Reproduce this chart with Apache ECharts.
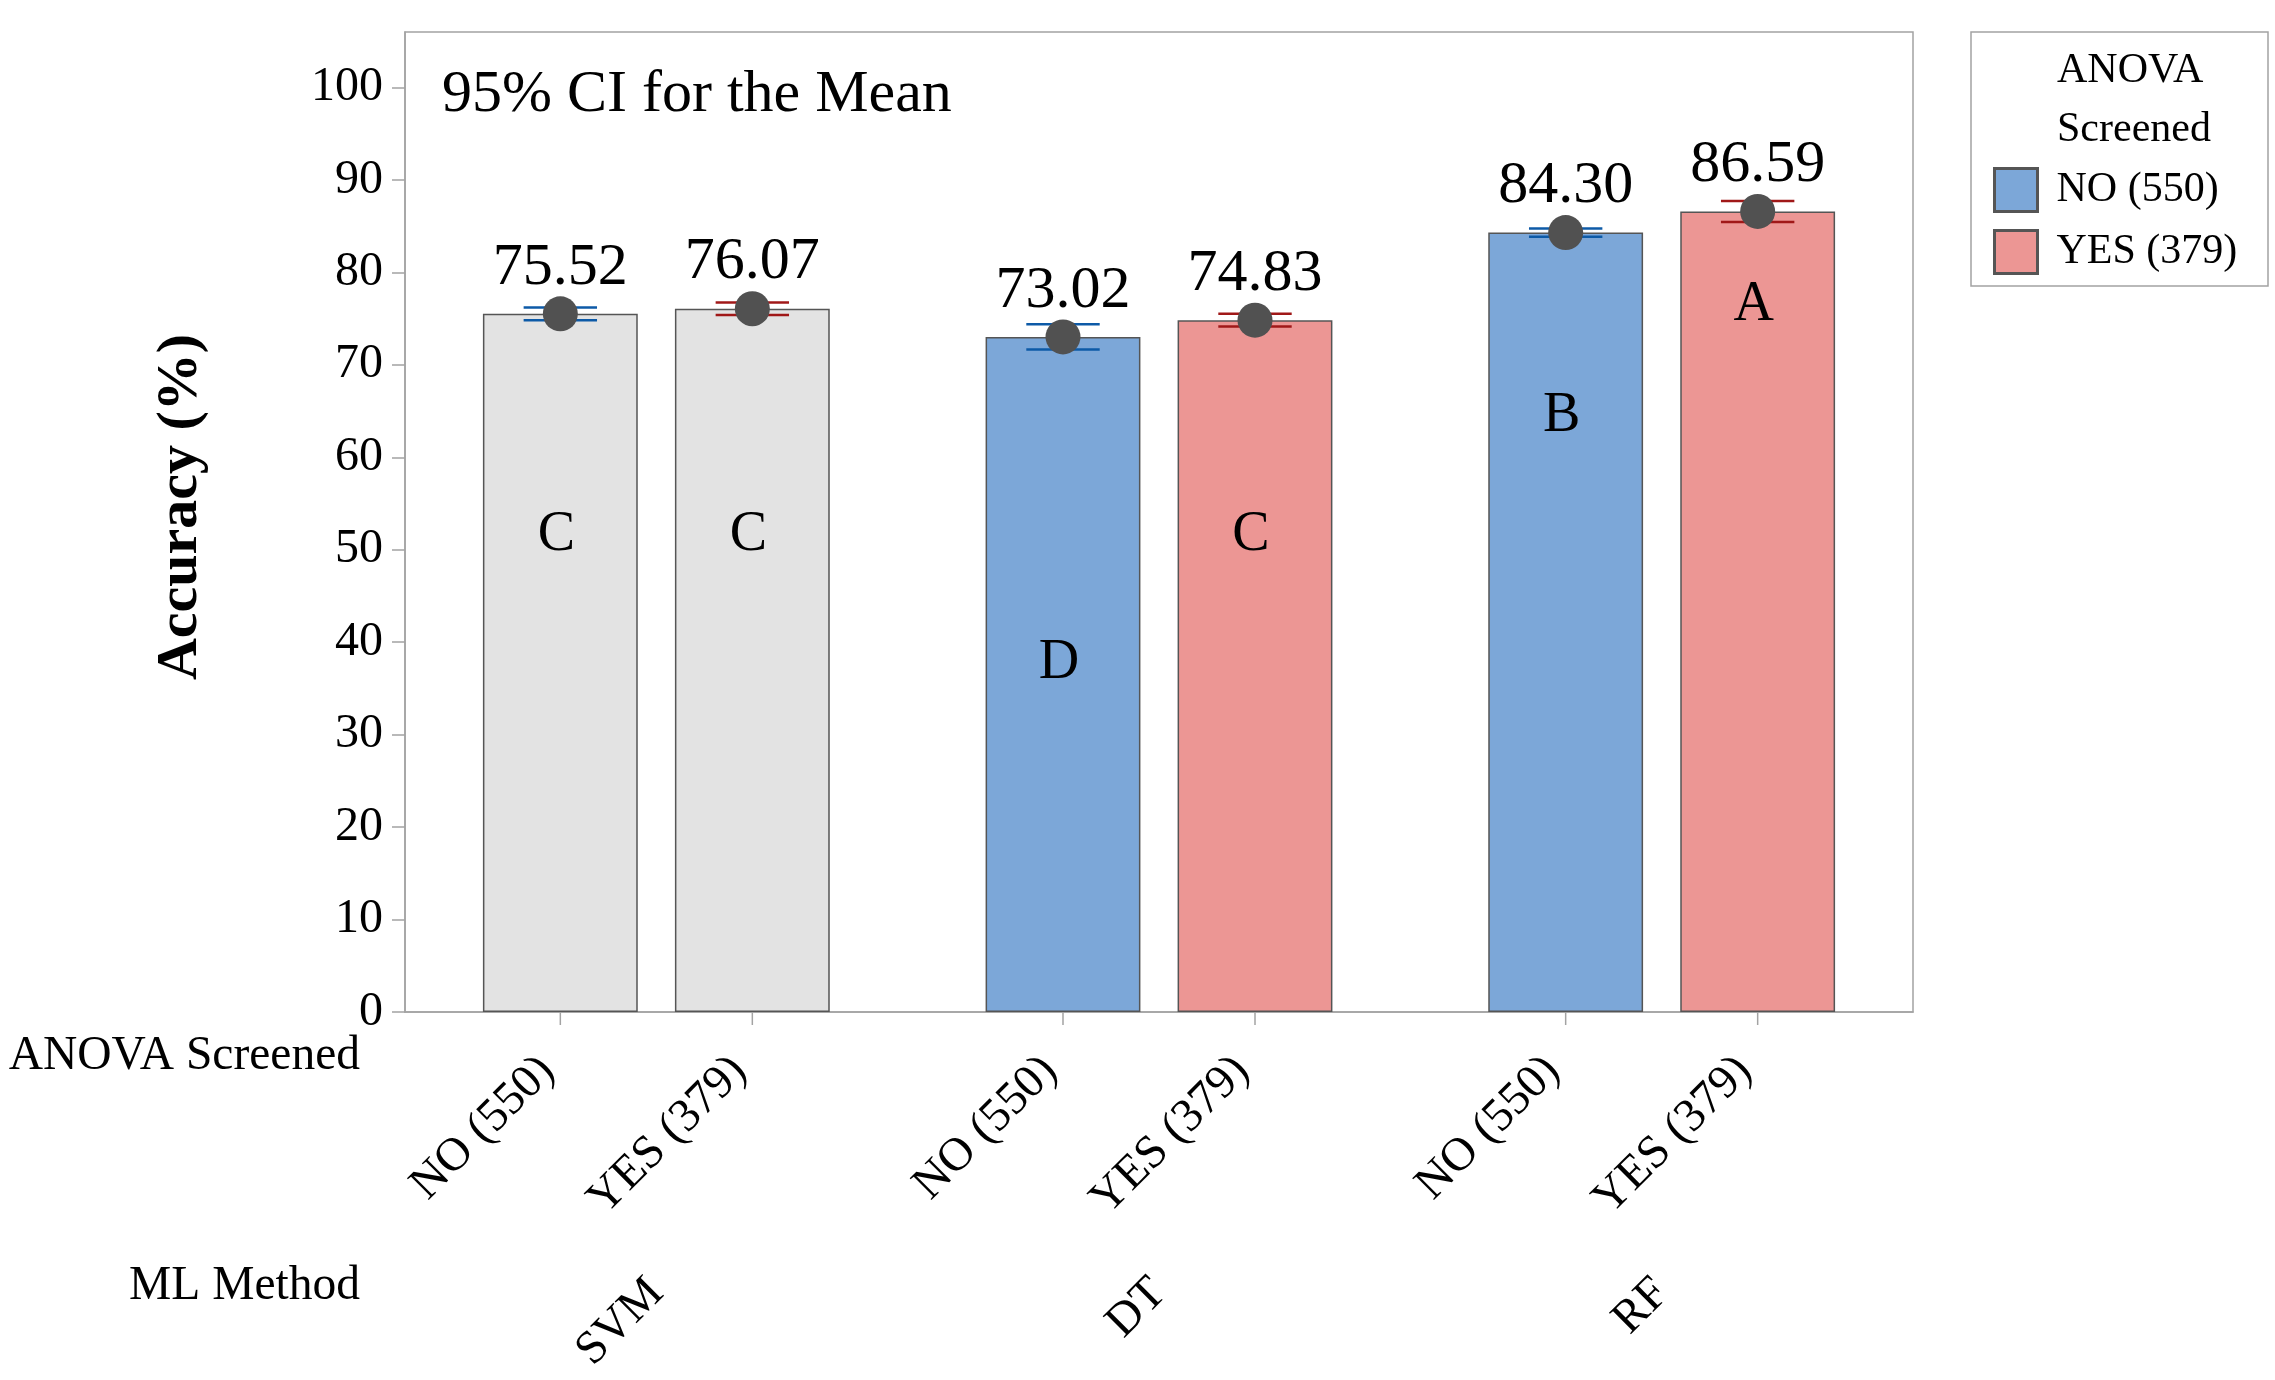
<!DOCTYPE html>
<html>
<head>
<meta charset="utf-8">
<script src="https://cdn.jsdelivr.net/npm/echarts@6.0.0/dist/echarts.min.js"></script>
<style>
  html, body { margin: 0; padding: 0; background: #ffffff; }
  #chart { width: 2275px; height: 1380px; }
</style>
</head>
<body>
<div id="chart"></div>
<script>
// ---------- data ----------
const methods = ['SVM', 'DT', 'RF'];
const groupNames = ['NO (550)', 'YES (379)'];
const meanNo = [75.52, 73.02, 84.30];
const meanYes = [76.07, 74.83, 86.59];
const ciNoLow = [74.83, 71.65, 83.85];
const ciNoHigh = [76.21, 74.39, 84.75];
const ciYesLow = [75.39, 74.14, 85.46];
const ciYesHigh = [76.75, 75.52, 87.72];
const letterNo = ['C', 'D', 'B'];
const letterYes = ['C', 'C', 'A'];
const letterPosNo = [51.6, 37.7, 64.4];
const letterPosYes = [51.6, 51.6, 76.4];
const yTicks = [0, 10, 20, 30, 40, 50, 60, 70, 80, 90, 100];

// ---------- style ----------
const FONT = '"Liberation Serif", "Times New Roman", serif';
const BLUE = '#7ca7d8';
const RED = '#ec9694';
const GREY = '#e3e3e3';
const EDGE = '#555555';
const AXIS = '#a3a3a3';
const CI_BLUE = '#0d5aa7';
const CI_RED = '#a01818';
const CAT_GAP = 0.31;
const BAR_GAP = 0.24;

function barData(values, color) {
  return values.map((v, i) => ({
    value: v,
    itemStyle: { color: methods[i] === 'SVM' ? GREY : color }
  }));
}

function overlay(side, means, lows, highs, letters, letterPos, ciColor) {
  return {
    type: 'custom',
    name: 'ci-' + side,
    z: 10,
    clip: false,
    encode: { x: 0, y: [1, 2, 3, 4] },
    data: means.map((m, i) => [i, m, lows[i], highs[i], letterPos[i]]),
    renderItem: function (params, api) {
      const idx = api.value(0);
      const band = api.size([1, 0])[0];
      const barW = band * (1 - CAT_GAP) / (2 + BAR_GAP);
      const off = (side === 0 ? -1 : 1) * barW * (1 + BAR_GAP) / 2;
      const pm = api.coord([idx, api.value(1)]);
      const pl = api.coord([idx, api.value(2)]);
      const ph = api.coord([idx, api.value(3)]);
      const pt = api.coord([idx, api.value(4)]);
      const p0 = api.coord([idx, 0]);
      const x = pm[0] + off;
      const hw = barW * 0.237;
      return {
        type: 'group',
        children: [
          { type: 'line', shape: { x1: x - hw, y1: ph[1], x2: x + hw, y2: ph[1] },
            style: { stroke: ciColor, lineWidth: 2.5 } },
          { type: 'line', shape: { x1: x - hw, y1: pl[1], x2: x + hw, y2: pl[1] },
            style: { stroke: ciColor, lineWidth: 2.5 } },
          { type: 'circle', shape: { cx: x, cy: pm[1], r: 17.5 },
            style: { fill: '#515151' } },
          { type: 'text', x: x - 4, y: pt[1],
            style: { text: letters[params.dataIndex], font: '56px ' + FONT,
                     fill: '#000', align: 'center', verticalAlign: 'middle' } },
          { type: 'line', shape: { x1: x, y1: p0[1], x2: x, y2: p0[1] + 13 },
            style: { stroke: AXIS, lineWidth: 1.5 } },
          { type: 'text', x: x - 13, y: p0[1] + 52, rotation: Math.PI / 4,
            style: { text: groupNames[side], font: '47px ' + FONT,
                     fill: '#000', align: 'right', verticalAlign: 'middle' } }
        ]
      };
    }
  };
}

const chart = echarts.init(document.getElementById('chart'), null, { renderer: 'canvas' });

const valueLabel = {
  show: true,
  position: 'top',
  distance: 16,
  fontFamily: FONT,
  fontSize: 60,
  color: '#000',
  formatter: p => p.value.toFixed(2)
};

chart.setOption({
  animation: false,
  backgroundColor: '#ffffff',
  textStyle: { fontFamily: FONT },
  grid: {
    left: 405, right: 362, top: 32, bottom: 368,
    show: true, borderColor: AXIS, borderWidth: 1.5, backgroundColor: 'transparent'
  },
  legend: {
    data: groupNames,
    orient: 'vertical',
    left: 1993,
    top: 167,
    padding: 0,
    itemWidth: 43,
    itemHeight: 43,
    itemGap: 16,
    icon: 'rect',
    selectedMode: false,
    itemStyle: { borderColor: EDGE, borderWidth: 3 },
    textStyle: { fontFamily: FONT, fontSize: 42, color: '#000', padding: [0, 0, 0, 14] }
  },
  xAxis: {
    type: 'category',
    data: methods,
    axisLine: { show: true, lineStyle: { color: AXIS, width: 1.5 } },
    axisTick: { show: false },
    axisLabel: {
      rotate: 45, margin: 274, fontFamily: FONT, fontSize: 47, color: '#000'
    },
    splitLine: { show: false }
  },
  yAxis: {
    type: 'value',
    min: 0,
    max: 106,
    name: 'Accuracy (%)',
    nameLocation: 'middle',
    nameGap: 195,
    nameTextStyle: { fontFamily: FONT, fontSize: 58, fontWeight: 'bold', color: '#000', padding: [0, 0, 0, 30] },
    axisLine: { show: true, lineStyle: { color: AXIS, width: 1.5 } },
    axisTick: { show: true, length: 13, lineStyle: { color: AXIS, width: 1.5 }, customValues: yTicks },
    axisLabel: { fontFamily: FONT, fontSize: 48, color: '#000', margin: 22, customValues: yTicks },
    splitLine: { show: false }
  },
  graphic: [
    { type: 'text', x: 442, y: 95,
      style: { text: '95% CI for the Mean', font: '60px ' + FONT, fill: '#000',
               align: 'left', verticalAlign: 'middle' } },
    { type: 'rect', shape: { x: 1971, y: 32, width: 297, height: 254 },
      style: { fill: 'none', stroke: AXIS, lineWidth: 1.5 } },
    { type: 'text', x: 2057, y: 71,
      style: { text: 'ANOVA', font: '42px ' + FONT, fill: '#000', align: 'left', verticalAlign: 'middle' } },
    { type: 'text', x: 2057, y: 130,
      style: { text: 'Screened', font: '42px ' + FONT, fill: '#000', align: 'left', verticalAlign: 'middle' } },
    { type: 'text', x: 360, y: 1057,
      style: { text: 'ANOVA Screened', font: '47.5px ' + FONT, fill: '#000', align: 'right', verticalAlign: 'middle' } },
    { type: 'text', x: 360, y: 1287,
      style: { text: 'ML Method', font: '47.5px ' + FONT, fill: '#000', align: 'right', verticalAlign: 'middle' } }
  ],
  series: [
    {
      type: 'bar',
      name: groupNames[0],
      data: barData(meanNo, BLUE),
      itemStyle: { color: BLUE, borderColor: EDGE, borderWidth: 1.5 },
      barCategoryGap: (CAT_GAP * 100) + '%',
      barGap: (BAR_GAP * 100) + '%',
      label: valueLabel
    },
    {
      type: 'bar',
      name: groupNames[1],
      data: barData(meanYes, RED),
      itemStyle: { color: RED, borderColor: EDGE, borderWidth: 1.5 },
      barCategoryGap: (CAT_GAP * 100) + '%',
      barGap: (BAR_GAP * 100) + '%',
      label: valueLabel
    },
    overlay(0, meanNo, ciNoLow, ciNoHigh, letterNo, letterPosNo, CI_BLUE),
    overlay(1, meanYes, ciYesLow, ciYesHigh, letterYes, letterPosYes, CI_RED)
  ]
});
</script>
</body>
</html>
